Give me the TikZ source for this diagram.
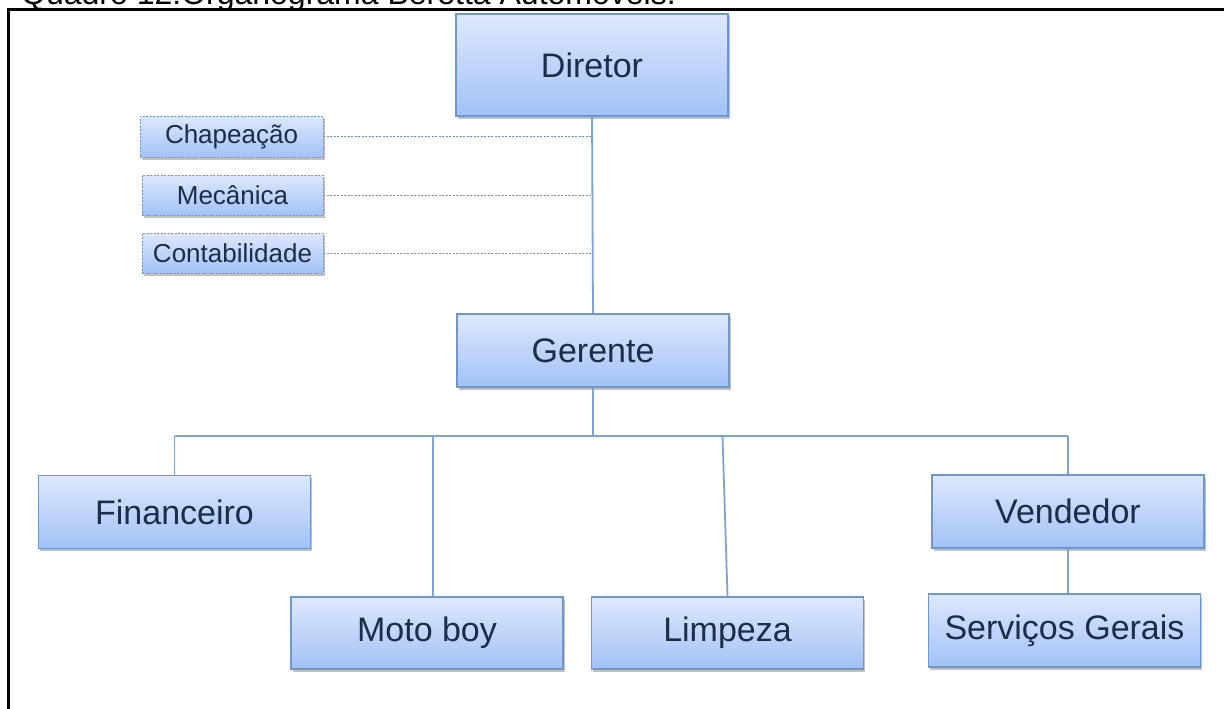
\documentclass[tikz,border=0pt]{standalone}
\usepackage{fontspec}
\setmainfont{Liberation Sans}
\usetikzlibrary{shadows}
\definecolor{boxtop}{HTML}{DDE8FD}
\definecolor{boxbot}{HTML}{A3C1F7}
\definecolor{boxedge}{HTML}{7097CD}
\definecolor{txt}{HTML}{1C2D4A}
\definecolor{conn}{HTML}{7FA3D3}
\definecolor{dconn}{HTML}{6A90C6}
\tikzset{
  orgbox/.style={draw=boxedge, line width=1.3pt, top color=boxtop, bottom color=boxbot,
    minimum width=272pt, minimum height=73pt, inner sep=0pt, text=txt,
    font=\fontsize{34}{40}\selectfont,
    drop shadow={shadow xshift=1.5pt, shadow yshift=-2.5pt, opacity=0.35, fill=black!70}},
  smallbox/.style={orgbox, dash pattern=on 2pt off 1.5pt, line width=0.9pt,
    minimum width=182pt, minimum height=41pt, font=\fontsize{26}{30}\selectfont},
  link/.style={draw=conn, line width=1.8pt},
  dlink/.style={draw=dconn, line width=1pt, dash pattern=on 2pt off 1.5pt},
  frame/.style={draw=black, line width=3pt},
}
\begin{document}
\begin{tikzpicture}[x=1pt, y=1pt]
\useasboundingbox (0,0) rectangle (1224,-709);
\clip (0,0) rectangle (1224,-709);
\fill[white] (0,0) rectangle (1224,-709);
% frame and caption
\draw[frame] (8.7,-730) -- (8.7,-10) -- (1240,-10);
\node[anchor=base west, inner sep=0pt, font=\fontsize{32}{36}\selectfont] (title) at (21,-4.5) {Quadro 12:Organograma Beretta Automóveis.};
% nodes
\node[orgbox, minimum height=102pt] (dir) at (592,-65) {Diretor};
\node[smallbox, minimum width=183pt] (chap) at (231.5,-136.5) {Chapeação};
\node[smallbox, minimum width=181pt, minimum height=40pt] (mec) at (232.5,-195) {Mecânica};
\node[smallbox, minimum width=181pt, minimum height=40pt] (cont) at (232.5,-253) {Contabilidade};
\node[orgbox] (ger) at (593,-350.5) {Gerente};
\node[orgbox] (fin) at (174.5,-512) {Financeiro};
\node[orgbox, minimum height=72pt] (moto) at (427,-633) {Moto boy};
\node[orgbox, minimum height=72pt] (limp) at (727.5,-633) {Limpeza};
\node[orgbox] (ven) at (1068,-511.5) {Vendedor};
\node[orgbox] (serv) at (1064.5,-630.5) {Serviços Gerais};
\coordinate (bus) at (593,-436);
% connectors
\draw[link] (dir.south) -- (ger.north);
\draw[dlink] (chap.east) -- (chap.east -| dir.south);
\draw[dlink] (mec.east) -- (mec.east -| dir.south);
\draw[dlink] (cont.east) -- (cont.east -| dir.south);
\draw[link] (ger.south) -- (ger.south |- bus);
\draw[link] (fin.north |- bus) -- (ven.north |- bus);
\draw[link] (fin.north |- bus) -- (fin.north);
\draw[link] ([xshift=5.7pt]moto.north |- bus) -- ([xshift=5.7pt]moto.north);
\draw[link] ([xshift=-5pt]limp.north |- bus) -- (limp.north);
\draw[link] (ven.north |- bus) -- (ven.north);
\draw[link] (ven.south) -- (ven.south |- serv.north);
\end{tikzpicture}
\end{document}
